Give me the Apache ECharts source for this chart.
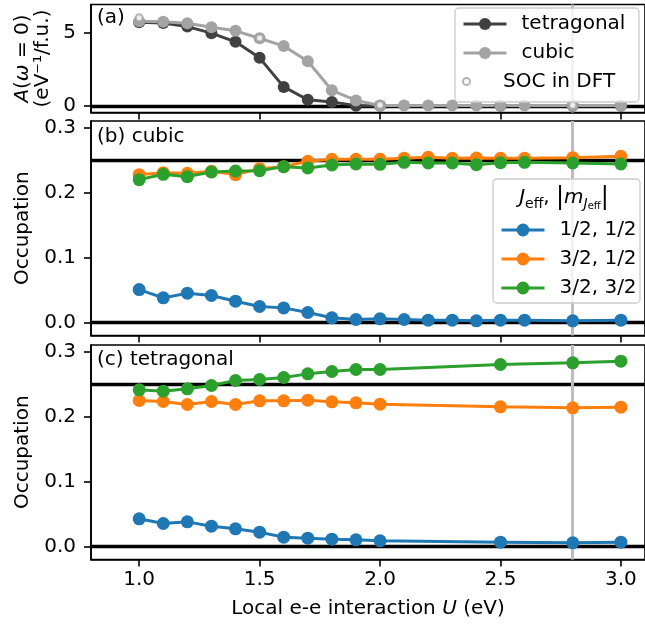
<!DOCTYPE html>
<html><head><meta charset="utf-8">
<script src="https://cdn.jsdelivr.net/npm/echarts@6/dist/echarts.min.js"></script>
<style>html,body{margin:0;padding:0;background:#fff}#c{width:645px;height:625px}</style>
</head><body><div id="c"></div>
<script>
// ---- data ----
const U_cubic = [1.0,1.1,1.2,1.3,1.4,1.5,1.6,1.7,1.8,1.9,2.0,2.1,2.2,2.3,2.4,2.5,2.6,2.8,3.0];
const U_tetra = [1.0,1.1,1.2,1.3,1.4,1.5,1.6,1.7,1.8,1.9,2.0,2.5,2.8,3.0];
const U_soc = [1.0,1.5,2.0,2.8];
const A_tetra = [5.75,5.7,5.45,5.0,4.4,3.3,1.3,0.42,0.27,0.0,0.0,0.0,0.0,0.0];
const A_cubic = [5.82,5.79,5.68,5.4,5.16,4.65,4.11,3.06,1.07,0.37,0.02,0.02,0.02,0.02,0.02,0.02,0.02,0.02,0.02];
const A_soc = [6.05,4.67,0.05,0.04];
const occCubic_12_12 = [0.0507,0.0379,0.0451,0.0415,0.0328,0.0246,0.0225,0.0154,0.0072,0.0046,0.0056,0.0046,0.0036,0.0036,0.0026,0.0036,0.0036,0.0026,0.0036];
const occCubic_32_12 = [0.2275,0.2305,0.2295,0.2326,0.2275,0.2367,0.2398,0.248,0.251,0.251,0.251,0.2526,0.2541,0.2526,0.2531,0.2526,0.2526,0.2536,0.2556];
const occCubic_32_32 = [0.2198,0.228,0.2244,0.2316,0.2331,0.2336,0.2398,0.2377,0.2423,0.2439,0.2433,0.2464,0.2454,0.2454,0.2428,0.2459,0.2464,0.2454,0.2439];
const occTetra_12_12 = [0.0426,0.0354,0.0379,0.0313,0.0272,0.022,0.0144,0.0128,0.0113,0.0103,0.0087,0.0067,0.0056,0.0067];
const occTetra_32_12 = [0.2246,0.2231,0.2185,0.2231,0.2185,0.2241,0.2241,0.2251,0.2226,0.221,0.219,0.2149,0.2133,0.2144];
const occTetra_32_32 = [0.241,0.239,0.2426,0.2477,0.2554,0.2569,0.26,0.2656,0.2692,0.2723,0.2723,0.28,0.2826,0.2851];
const xTicks = [1.0,1.5,2.0,2.5,3.0];
const yTicksA = [0,5];
const yTicksOcc = [0.0,0.1,0.2,0.3];
const seriesNames = ['1/2, 1/2','3/2, 1/2','3/2, 3/2'];
const uMark = 2.8;
const occRef = 0.25;

// ---- chart ----
const FONT = 'DejaVu Sans';
const FS = 20;
const LW = 3;
const pair = (xs, ys) => xs.map((x, i) => [x, ys[i]]);
const chart = echarts.init(document.getElementById('c'), null, {renderer: 'canvas'});

const grids = [
  {left: 91, right: -5, top: 4.5, height: 108},
  {left: 91, right: -5, top: 121, height: 214.5},
  {left: 91, right: -5, top: 345, height: 214.5}
].map(g => Object.assign(g, {show: true, borderColor: '#000', borderWidth: 1.6, backgroundColor: 'transparent', containLabel: false}));

const xAxes = [0,1,2].map(i => ({
  type: 'value', gridIndex: i, min: 0.8, max: 3.1,
  axisLine: {show: true, onZero: false, lineStyle: {color: '#000', width: 1.6}},
  axisTick: {show: true, inside: false, length: 7, customValues: xTicks, lineStyle: {color: '#000', width: 1.6}},
  axisLabel: {show: i === 2, customValues: xTicks, margin: 10, color: '#000', fontFamily: FONT, fontSize: FS,
    formatter: v => v.toFixed(1)},
  splitLine: {show: false},
  name: i === 2 ? '{n|Local e-e interaction }{i|U}{n| (eV)}' : '',
  nameLocation: 'middle', nameGap: 39,
  nameTextStyle: {rich: {
    n: {fontFamily: FONT, fontSize: FS, color: '#000'},
    i: {fontFamily: FONT, fontSize: FS, fontStyle: 'italic', color: '#000'}
  }}
}));

const yAxes = [0,1,2].map(i => ({
  type: 'value', gridIndex: i,
  min: i === 0 ? -0.46 : -0.02, max: i === 0 ? 6.97 : 0.31,
  axisLine: {show: true, onZero: false, lineStyle: {color: '#000', width: 1.6}},
  axisTick: {show: true, inside: false, length: 7, customValues: i === 0 ? yTicksA : yTicksOcc, lineStyle: {color: '#000', width: 1.6}},
  axisLabel: {show: true, customValues: i === 0 ? yTicksA : yTicksOcc, margin: 15, color: '#000', fontFamily: FONT, fontSize: FS,
    formatter: v => i === 0 ? String(Math.round(v)) : v.toFixed(1)},
  splitLine: {show: false},
  name: i === 0 ? '{i|A}{n|(}{i|ω}{n| = 0)}\n{n|(eV⁻¹/f.u.)}' : '{n|Occupation}',
  nameLocation: 'middle', nameGap: i === 0 ? 32 : 52,
  nameTextStyle: {rich: {
    n: {fontFamily: FONT, fontSize: FS, color: '#000', lineHeight: 20},
    i: {fontFamily: FONT, fontSize: FS, fontStyle: 'italic', color: '#000', lineHeight: 20}
  }}
}));

function helper(gi, hlines) {
  return {
    type: 'line', xAxisIndex: gi, yAxisIndex: gi, data: [], silent: true, z: 1,
    markLine: {
      silent: true, symbol: 'none', z: 1, animation: false,
      label: {show: false},
      data: hlines.map(v => ({yAxis: v, lineStyle: {color: '#000', width: 3.4, type: 'solid'}}))
        .concat([{xAxis: uMark, lineStyle: {color: '#bdbdbd', width: 3, type: 'solid'}}])
    }
  };
}

function lineSeries(name, gi, data, color, size) {
  return {
    type: 'line', name, xAxisIndex: gi, yAxisIndex: gi, data, z: 3,
    symbol: 'circle', symbolSize: size, showSymbol: true,
    lineStyle: {color, width: LW}, itemStyle: {color},
    emphasis: {disabled: true}, animation: false
  };
}

const colors = ['#1f77b4', '#ff7f0e', '#2ca02c'];

const series = [
  helper(0, [0]),
  helper(1, [0, occRef]),
  helper(2, [0, occRef]),
  lineSeries('tetragonal', 0, pair(U_tetra, A_tetra), '#404040', 12),
  lineSeries('cubic', 0, pair(U_cubic, A_cubic), '#a3a3a3', 12),
  {type: 'scatter', name: 'SOC in DFT', xAxisIndex: 0, yAxisIndex: 0, z: 4,
   data: pair(U_soc, A_soc), symbol: 'circle', symbolSize: 7,
   itemStyle: {color: '#ffffff', borderColor: '#a3a3a3', borderWidth: 2}, emphasis: {disabled: true}, animation: false},
  lineSeries(seriesNames[0], 1, pair(U_cubic, occCubic_12_12), colors[0], 13),
  lineSeries(seriesNames[1], 1, pair(U_cubic, occCubic_32_12), colors[1], 13),
  lineSeries(seriesNames[2], 1, pair(U_cubic, occCubic_32_32), colors[2], 13),
  lineSeries(seriesNames[0], 2, pair(U_tetra, occTetra_12_12), colors[0], 13),
  lineSeries(seriesNames[1], 2, pair(U_tetra, occTetra_32_12), colors[1], 13),
  lineSeries(seriesNames[2], 2, pair(U_tetra, occTetra_32_32), colors[2], 13)
];

const legTxt = {fontFamily: FONT, fontSize: FS, color: '#000', lineHeight: 20, padding: [0, 0, 0, 10]};
const legLine = {width: LW};
const legends = [
  {data: ['tetragonal', 'cubic'], orient: 'vertical', left: 462, top: 14, padding: 0,
   itemWidth: 43, itemHeight: 15, itemGap: 9, textStyle: legTxt, lineStyle: legLine, z: 12, selectedMode: false},
  {data: ['SOC in DFT'], orient: 'vertical', left: 462, top: 71.5, padding: 0,
   itemWidth: 43, itemHeight: 7, itemGap: 9, textStyle: legTxt, z: 12, selectedMode: false},
  {data: seriesNames, orient: 'vertical', left: 500, top: 220, padding: 0,
   itemWidth: 43, itemHeight: 16, itemGap: 9, textStyle: legTxt, lineStyle: legLine, z: 12, selectedMode: false}
];

const graphic = [
  {type: 'rect', z: 10, silent: true, shape: {x: 455, y: 8, width: 184, height: 94, r: 4},
   style: {fill: 'rgba(255,255,255,0.8)', stroke: '#cccccc', lineWidth: 1.3}},
  {type: 'rect', z: 10, silent: true, shape: {x: 493, y: 179, width: 147, height: 124, r: 4},
   style: {fill: 'rgba(255,255,255,0.8)', stroke: '#cccccc', lineWidth: 1.3}},
  {type: 'text', z: 12, silent: true, x: 564, y: 198,
   style: {text: '{i|J}{s|eff}{n|, }{b||}{i|m}{si|J}{ss|eff}{b||}', align: 'center', verticalAlign: 'middle',
     rich: {
       n: {fontFamily: FONT, fontSize: FS, fill: '#000', lineHeight: 26},
       b: {fontFamily: FONT, fontSize: 24, fill: '#000', lineHeight: 26},
       i: {fontFamily: FONT, fontSize: FS, fontStyle: 'italic', fill: '#000', lineHeight: 26},
       s: {fontFamily: FONT, fontSize: 14, fill: '#000', lineHeight: 15, verticalAlign: 'bottom'},
       si: {fontFamily: FONT, fontSize: 14, fontStyle: 'italic', fill: '#000', lineHeight: 15, verticalAlign: 'bottom'},
       ss: {fontFamily: FONT, fontSize: 10, fill: '#000', lineHeight: 8, verticalAlign: 'bottom'}
     }}},
  {type: 'text', z: 12, silent: true, left: 97, top: 8,
   style: {text: '(a)', font: FS + 'px "' + FONT + '"', fill: '#000'}},
  {type: 'text', z: 12, silent: true, left: 97, top: 127,
   style: {text: '(b) cubic', font: FS + 'px "' + FONT + '"', fill: '#000'}},
  {type: 'text', z: 12, silent: true, left: 97, top: 350,
   style: {text: '(c) tetragonal', font: FS + 'px "' + FONT + '"', fill: '#000'}}
];

chart.setOption({
  animation: false,
  backgroundColor: '#fff',
  grid: grids, xAxis: xAxes, yAxis: yAxes,
  legend: legends, series, graphic
});
</script></body></html>
